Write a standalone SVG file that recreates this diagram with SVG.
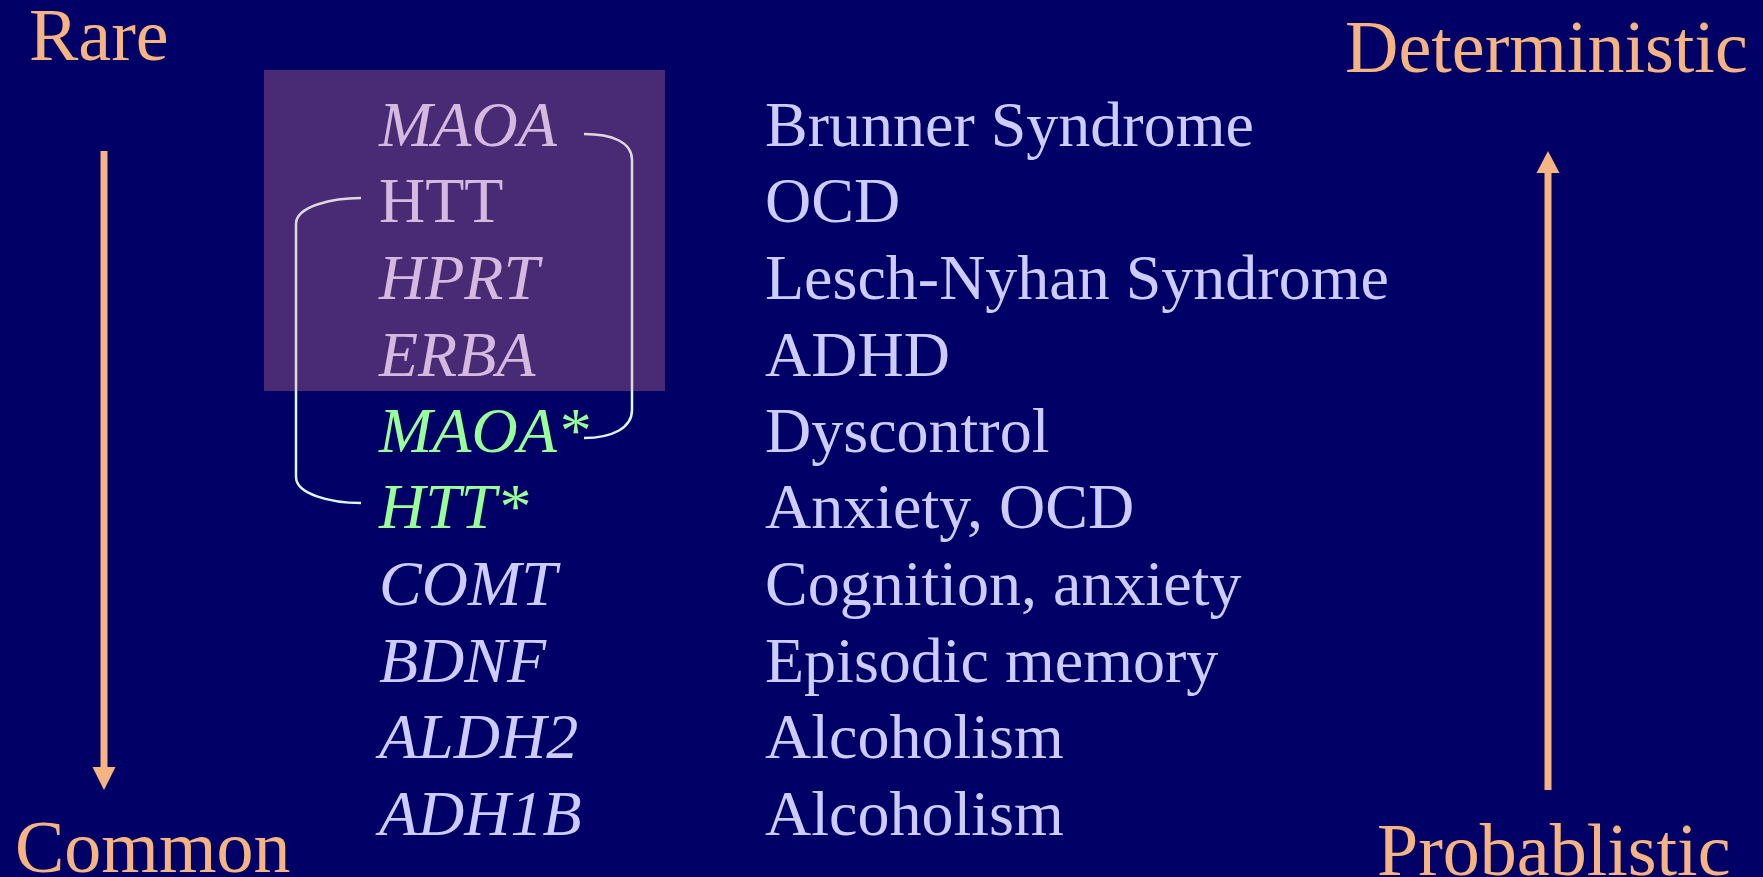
<svg xmlns="http://www.w3.org/2000/svg" width="1763" height="877" viewBox="0 0 1763 877">
<style>
.lbl{font-family:"Liberation Serif","Times New Roman",serif;font-size:74px;fill:#F5B482}
.gene{font-family:"Liberation Serif","Times New Roman",serif;font-size:64px;font-style:italic;fill:#CCCCFF}
.up{font-style:normal}
.grn{fill:#99FF99}
.dis{font-family:"Liberation Serif","Times New Roman",serif;font-size:64px;fill:#CCCCFF}
.br{fill:none;stroke:#DDF6FF;stroke-width:2.5}
.ax{stroke:#F5B482;stroke-width:7;fill:none}
.ah{fill:#F5B482}
</style>
<rect width="1763" height="877" fill="#000066"/>
<g id="labels">
<text class="lbl" x="29" y="60">Rare</text>
<text class="lbl" x="15" y="872">Common</text>
<text class="lbl" x="1345" y="72">Deterministic</text>
<text class="lbl" x="1377" y="875">Probablistic</text>
</g>
<g id="genes">
<g id="g-maoa"><text class="gene" x="379" y="146">MAOA</text><text class="dis" x="765" y="146">Brunner Syndrome</text></g>
<g id="g-htt"><text class="gene up" x="379" y="222">HTT</text><text class="dis" x="765" y="222">OCD</text></g>
<g id="g-hprt"><text class="gene" x="379" y="299">HPRT</text><text class="dis" x="765" y="299">Lesch-Nyhan Syndrome</text></g>
<g id="g-erba"><text class="gene" x="379" y="376">ERBA</text><text class="dis" x="765" y="376">ADHD</text></g>
<g id="g-maoa2"><text class="gene grn" x="379" y="452">MAOA*</text><text class="dis" x="765" y="452">Dyscontrol</text></g>
<g id="g-htt2"><text class="gene grn" x="379" y="528">HTT*</text><text class="dis" x="765" y="528">Anxiety, OCD</text></g>
<g id="g-comt"><text class="gene" x="379" y="605">COMT</text><text class="dis" x="765" y="605">Cognition, anxiety</text></g>
<g id="g-bdnf"><text class="gene" x="379" y="682">BDNF</text><text class="dis" x="765" y="682">Episodic memory</text></g>
<g id="g-aldh2"><text class="gene" x="379" y="758">ALDH2</text><text class="dis" x="765" y="758">Alcoholism</text></g>
<g id="g-adh1b"><text class="gene" x="379" y="835">ADH1B</text><text class="dis" x="765" y="835">Alcoholism</text></g>
</g>
<g id="connectors">
<path class="br" d="M584,134 C612,134 632,142 632,160 L632,410 C632,428 612,438 584,438"/>
<path class="br" d="M361,198 C333,198 296,206 296,224 L296,477 C296,494 330,503 361,503"/>
<line class="ax" x1="104" y1="151" x2="104" y2="772"/>
<polygon class="ah" points="92.5,767 115.5,767 104,790"/>
<line class="ax" x1="1548" y1="790" x2="1548" y2="169"/>
<polygon class="ah" points="1536.5,173 1559.5,173 1548,151"/>
</g>
<rect id="highlight" x="264" y="70" width="401" height="321" fill="rgb(237,143,150)" fill-opacity="0.3"/>
</svg>
